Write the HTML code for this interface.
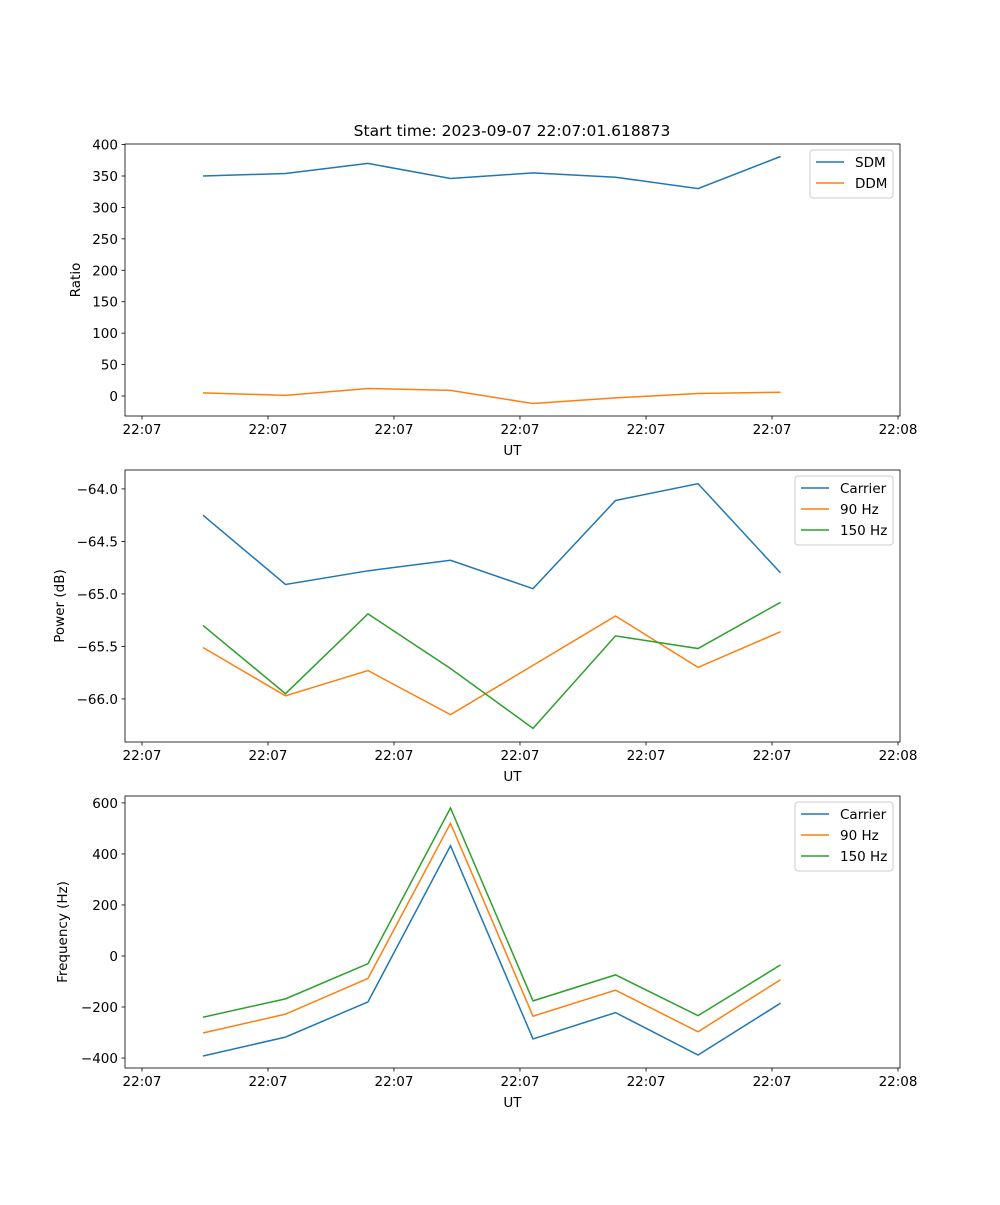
<!DOCTYPE html>
<html><head><meta charset="utf-8"><style>
html,body{margin:0;padding:0;background:#fff}
svg text{font-family:"DejaVu Sans","Liberation Sans",sans-serif;font-size:13.5px;fill:#000}
</style></head><body>
<svg id="fig" width="1000" height="1200" xmlns="http://www.w3.org/2000/svg"></svg>
<script>
const sampleTimes=[0,1,2,3,4,5,6,7];
const tickTimes=[-0.739,0.788,2.315,3.842,5.370,6.897,8.424];
const tickLabels=["22:07","22:07","22:07","22:07","22:07","22:07","22:08"];
const ratioTicks=[0,50,100,150,200,250,300,350,400];
const sdm=[350,354,370,346,355,348,330,381];
const ddm=[5,1,12,9,-12,-3,4,6];
const powerTicks=[-66.0,-65.5,-65.0,-64.5,-64.0];
const powCarrier=[-64.25,-64.91,-64.78,-64.68,-64.95,-64.11,-63.95,-64.80];
const pow90=[-65.51,-65.97,-65.73,-66.15,-65.68,-65.21,-65.70,-65.36];
const pow150=[-65.30,-65.95,-65.19,-65.71,-66.28,-65.40,-65.52,-65.08];
const freqTicks=[-400,-200,0,200,400,600];
const freqCarrier=[-392,-318,-180,432,-325,-222,-388,-185];
const freq90=[-302,-228,-88,520,-236,-134,-297,-93];
const freq150=[-240,-168,-30,580,-176,-74,-234,-35];

const NS="http://www.w3.org/2000/svg";
const svg=document.getElementById('fig');
function mk(tag,attrs,parent){const e=document.createElementNS(NS,tag);for(const k in attrs)e.setAttribute(k,attrs[k]);(parent||svg).appendChild(e);return e;}
const L=125,R=900,xmin=-0.945,xmax=8.448;
const xs=t=>L+(t-xmin)/(xmax-xmin)*(R-L);
function panel(name,top,bot,ymin,ymax,yticks,fmt,ylabel,series,legend){
  const g=mk('g',{});
  
  
  const ys=v=>bot-(v-ymin)/(ymax-ymin)*(bot-top);
  series.forEach(s=>{
    const p=mk('polyline',{points:s.vals.map((v,i)=>xs(sampleTimes[i])+','+ys(v)).join(' '),fill:'none',stroke:s.color,'stroke-width':1.5},g);
    
    
  });
  mk('rect',{x:L,y:top,width:R-L,height:bot-top,fill:'none',stroke:'#000','stroke-width':0.8},g);
  tickTimes.forEach((t,i)=>{
    const x=xs(t);
    mk('line',{x1:x,x2:x,y1:bot,y2:bot+3.5,stroke:'#000','stroke-width':0.8},g);
    const tx=mk('text',{x:x,y:bot+18,'text-anchor':'middle'},g);tx.textContent=tickLabels[i];
    
    
  });
  yticks.forEach(v=>{
    const y=ys(v);
    mk('line',{x1:L-3.5,x2:L,y1:y,y2:y,stroke:'#000','stroke-width':0.8},g);
    const tx=mk('text',{x:L-7,y:y+5,'text-anchor':'end'},g);tx.textContent=fmt(v).replace('-','\u2212');
    
    
  });
  const xl=mk('text',{x:(L+R)/2,y:bot+39,'text-anchor':'middle'},g);xl.textContent='UT';
  
  
  const yl=mk('text',{x:0,y:0,'text-anchor':'middle',transform:`translate(${ylabel.x},${(top+bot)/2}) rotate(-90)`},g);yl.textContent=ylabel.t;
  
  
  const lg=mk('g',{},g);
  
  
  mk('rect',{x:legend.x,y:top+6,width:R-7-legend.x,height:series.length*21+6,rx:3,fill:'#fff',stroke:'#ccc','stroke-width':1},lg);
  series.forEach((s,i)=>{
    const y=top+18+i*21;
    mk('line',{x1:legend.x+6,x2:legend.x+34,y1:y,y2:y,stroke:s.color,'stroke-width':1.5},lg);
    const tx=mk('text',{x:legend.x+45,y:y+5},lg);tx.textContent=s.label;
    
    
  });
}
const t=mk('text',{x:512,y:136,'text-anchor':'middle',style:'font-size:15.5px'});t.textContent='Start time: 2023-09-07 22:07:01.618873';


const B='#1f77b4',O='#ff7f0e',G='#2ca02c';
panel('ratio',144,416,-31.8,400.9,ratioTicks,v=>String(v),{x:80,t:'Ratio'},
  [{key:'sdm',label:'SDM',vals:sdm,color:B},{key:'ddm',label:'DDM',vals:ddm,color:O}],{x:810});
panel('power',470,742,-66.41,-63.82,powerTicks,v=>v.toFixed(1),{x:64,t:'Power (dB)'},
  [{key:'carrier',label:'Carrier',vals:powCarrier,color:B},{key:'90hz',label:'90 Hz',vals:pow90,color:O},{key:'150hz',label:'150 Hz',vals:pow150,color:G}],{x:795});
panel('frequency',796,1068,-439,627,freqTicks,v=>String(v),{x:67,t:'Frequency (Hz)'},
  [{key:'carrier',label:'Carrier',vals:freqCarrier,color:B},{key:'90hz',label:'90 Hz',vals:freq90,color:O},{key:'150hz',label:'150 Hz',vals:freq150,color:G}],{x:795});
</script>
</body></html>
